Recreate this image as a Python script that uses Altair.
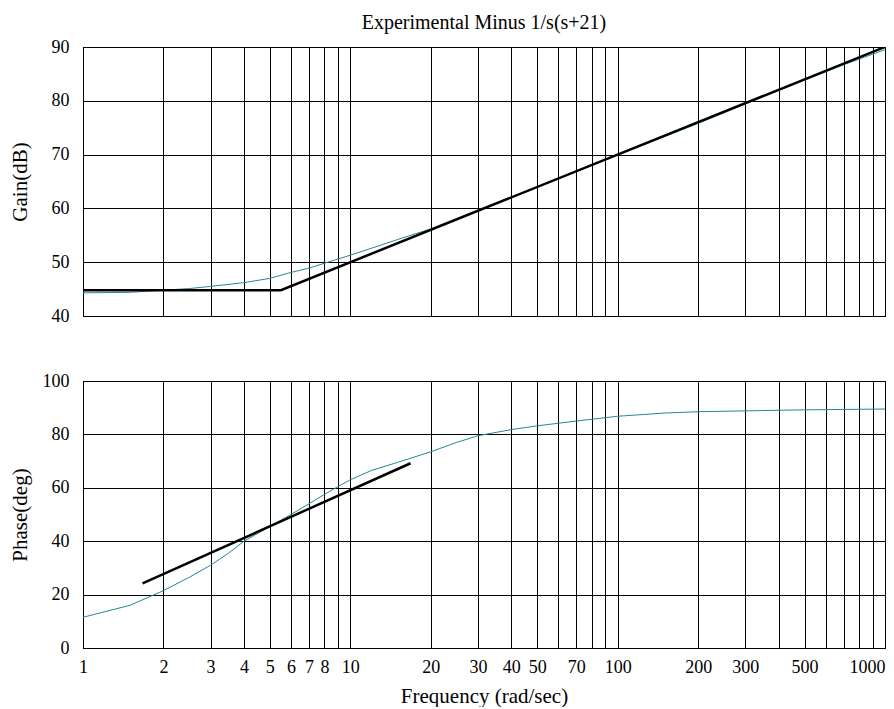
import altair as alt
import pandas as pd

# ---- data ----
gain_freq = [1, 1.5, 2, 2.5, 3, 4, 5, 6, 7, 8, 9, 10, 12, 15, 20, 30, 50, 70, 100, 200, 300, 500, 700, 1000]
gain_db = [44.3, 44.4, 44.8, 45.1, 45.5, 46.2, 47.0, 48.1, 48.9, 49.8, 50.6, 51.3, 52.6, 54.2, 56.2,
           59.7, 64.0, 66.9, 69.9, 75.8, 79.4, 83.8, 86.7, 89.5]

gain_asym_freq = [1, 5.5, 1000]
gain_asym_db = [44.8, 44.8, 90]

phase_freq = [1, 1.5, 2, 2.5, 3, 3.5, 4, 5, 6, 7, 8, 9, 10, 12, 15, 20, 25, 30, 40, 50, 70, 100,
              150, 200, 300, 500, 1000]
phase_deg = [11.5, 16.0, 21.5, 26.5, 31.0, 35.5, 40.0, 45.5, 50.0, 54.0, 57.5, 60.5, 63.0, 66.5,
             69.5, 73.5, 77.0, 79.5, 81.8, 83.2, 85.0, 86.8, 88.0, 88.5, 88.8, 89.2, 89.5]

phase_asym_freq = [1.67, 16.8]
phase_asym_deg = [24.2, 69.2]

grid_values = [1, 2, 3, 4, 5, 6, 7, 8, 9, 10, 20, 30, 40, 50, 60, 70, 80, 90, 100,
               200, 300, 400, 500, 600, 700, 800, 900, 1000]
label_values = [1, 2, 3, 4, 5, 6, 7, 8, 10, 20, 30, 40, 50, 70, 100, 200, 300, 500, 1000]

gain_ticks = [40, 50, 60, 70, 80, 90]
phase_ticks = [0, 20, 40, 60, 80, 100]

TEAL = "#2a8595"
FONT = "Liberation Serif"

gain_df = pd.DataFrame({"f": gain_freq, "v": gain_db})
gain_asym_df = pd.DataFrame({"f": gain_asym_freq, "v": gain_asym_db})
phase_df = pd.DataFrame({"f": phase_freq, "v": phase_deg})
phase_asym_df = pd.DataFrame({"f": phase_asym_freq, "v": phase_asym_deg})

xscale = alt.Scale(type="log", domain=[1, 1000], nice=False)

label_test = "indexof([" + ",".join(str(v) for v in label_values) + "], datum.value) >= 0"

x_top = alt.X("f:Q", scale=xscale, axis=alt.Axis(values=grid_values, labels=False, ticks=False,
                                                 title=None, grid=True))
x_bottom = alt.X("f:Q", scale=xscale, axis=alt.Axis(
    values=grid_values, ticks=False, grid=True, title="Frequency (rad/sec)",
    labelExpr=label_test + " ? format(datum.value, 'd') : ''",
    labelOverlap=False, labelFlush=False, labelPadding=10, titlePadding=9,
    labelAlign={"condition": {"test": "datum.value >= 1000", "value": "right"}, "value": "center"},
))

y_axis_common = dict(ticks=False, grid=True, labelPadding=14, minExtent=41, maxExtent=41,
                     titlePadding=12)

y_gain = alt.Y("v:Q", scale=alt.Scale(domain=[40, 90], nice=False, zero=False),
               axis=alt.Axis(values=gain_ticks, title="Gain(dB)", **y_axis_common))
y_phase = alt.Y("v:Q", scale=alt.Scale(domain=[0, 100], nice=False, zero=False),
                axis=alt.Axis(values=phase_ticks, title="Phase(deg)", **y_axis_common))

top = alt.layer(
    alt.Chart(gain_df).mark_line(color=TEAL, strokeWidth=1, clip=True).encode(x=x_top, y=y_gain),
    alt.Chart(gain_asym_df).mark_line(color="black", strokeWidth=2.5, clip=True).encode(x=x_top, y=y_gain),
).properties(width=802, height=269,
             title=alt.TitleParams("Experimental Minus 1/s(s+21)", anchor="middle", frame="group",
                                   offset=5, fontSize=20, font=FONT, fontWeight="normal",
                                   color="black"))

bottom = alt.layer(
    alt.Chart(phase_df).mark_line(color=TEAL, strokeWidth=1, clip=True).encode(x=x_bottom, y=y_phase),
    alt.Chart(phase_asym_df).mark_line(color="black", strokeWidth=2.5, clip=True).encode(x=x_bottom, y=y_phase),
).properties(width=802, height=267)

chart = alt.vconcat(top, bottom, spacing=45).properties(
    padding={"left": 0, "top": 4, "right": 0, "bottom": 0}
).configure_view(
    stroke="black", strokeWidth=1
).configure_axis(
    gridColor="black", gridOpacity=1, gridWidth=1,
    domainColor="black", domainWidth=1,
    labelColor="black", titleColor="black",
    labelFont=FONT, titleFont=FONT, labelFontSize=18, titleFontSize=21,
    titleFontWeight="normal",
)

chart.save("out.html", embed_options={"renderer": "svg", "actions": False})
